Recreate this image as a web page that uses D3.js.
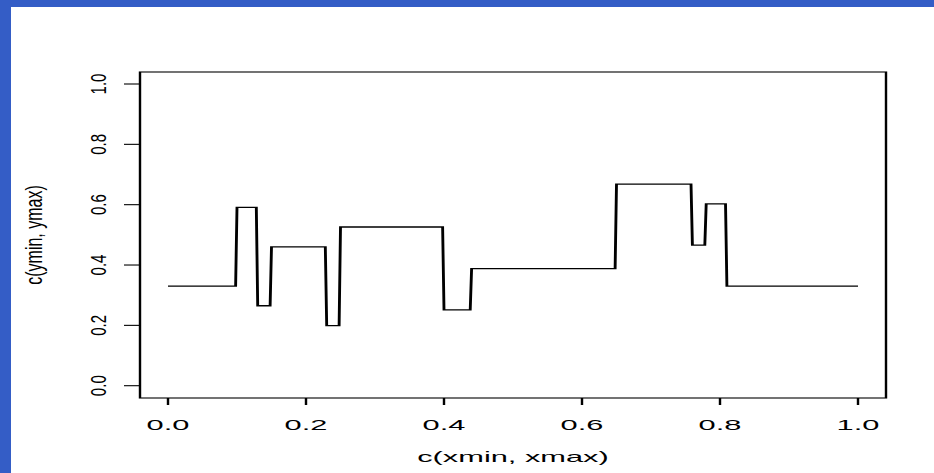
<!DOCTYPE html>
<html>
<head>
<meta charset="utf-8">
<script src="https://d3js.org/d3.v7.min.js"></script>
<style>
  body { margin: 0; background: #ffffff; }
  svg { display: block; font-family: "Liberation Sans", Arial, Helvetica, sans-serif; }
</style>
</head>
<body>
<script>
// step segments
var xmin = [0.000, 0.100, 0.130, 0.150, 0.230, 0.250, 0.400, 0.440, 0.650, 0.760, 0.780, 0.810];
var xmax = [0.098, 0.128, 0.148, 0.228, 0.248, 0.398, 0.438, 0.648, 0.758, 0.778, 0.808, 1.000];
var yval = [0.330, 0.591, 0.265, 0.460, 0.199, 0.526, 0.251, 0.388, 0.668, 0.466, 0.603, 0.330];

var xTicks = [0, 0.2, 0.4, 0.6, 0.8, 1.0];
var yTicks = [0, 0.2, 0.4, 0.6, 0.8, 1.0];
var xTitle = "c(xmin, xmax)";
var yTitle = "c(ymin, ymax)";

var W = 934, H = 473;
var S = 2.2;  // the plot looks stretched horizontally
var box = { left: 140, right: 886, top: 72, bottom: 398 };

var svg = d3.select("body").append("svg")
    .attr("width", W)
    .attr("height", H);

svg.append("rect").attr("width", W).attr("height", H).attr("fill", "#ffffff");
svg.append("rect").attr("width", 11).attr("height", H).attr("fill", "#345dc6");
svg.append("rect").attr("width", W).attr("height", 7).attr("fill", "#345dc6");

// everything in g is drawn in unstretched units, then scaled in x
var g = svg.append("g").attr("transform", "scale(" + S + ",1)");

var x = d3.scaleLinear().domain([0, 1]).range([168 / S, 858 / S]);
var y = d3.scaleLinear().domain([0, 1]).range([385.7, 84]);

// data line
var pts = [];
for (var i = 0; i < yval.length; i++) {
    pts.push([xmin[i], yval[i]]);
    pts.push([xmax[i], yval[i]]);
}
var line = d3.line()
    .x(function (d) { return x(d[0]); })
    .y(function (d) { return y(d[1]); });

g.append("path")
    .datum(pts)
    .attr("d", line)
    .attr("fill", "none")
    .attr("stroke", "#000")
    .attr("stroke-width", 1.3)
    .attr("stroke-linejoin", "miter");

// box
g.append("rect")
    .attr("x", box.left / S)
    .attr("y", box.top)
    .attr("width", (box.right - box.left) / S)
    .attr("height", box.bottom - box.top)
    .attr("fill", "none")
    .attr("stroke", "#000")
    .attr("stroke-width", 1.1);

// x axis
var xAxis = d3.axisBottom(x)
    .tickValues(xTicks)
    .tickSize(7)
    .tickSizeOuter(0)
    .offset(0)
    .tickFormat(d3.format(".1f"));

var gx = g.append("g")
    .attr("transform", "translate(0," + box.bottom + ")")
    .call(xAxis);
gx.select(".domain").remove();
gx.selectAll(".tick line").attr("stroke-width", 1.1);
gx.selectAll(".tick text")
    .attr("y", 32)
    .attr("dy", null)
    .attr("fill", "#000")
    .style("font-size", "14px")
    .style("font-family", "'Liberation Sans', Arial, sans-serif");

// y axis
var yAxis = d3.axisLeft(y)
    .tickValues(yTicks)
    .tickSize(16 / S)
    .tickSizeOuter(0)
    .offset(0)
    .tickFormat(d3.format(".1f"));

var gy = g.append("g")
    .attr("transform", "translate(" + (box.left / S) + ",0)")
    .call(yAxis);
gy.select(".domain").remove();
gy.selectAll(".tick line").attr("stroke-width", 1.1);
gy.selectAll(".tick text")
    .attr("x", null)
    .attr("dy", null)
    .attr("text-anchor", "middle")
    .attr("transform", "translate(" + ((106 - box.left) / S) + ",0) scale(" + (1.45 / S) + ",1) rotate(-90)")
    .attr("fill", "#000")
    .style("font-size", "15px")
    .style("font-family", "'Liberation Sans', Arial, sans-serif");

// titles
g.append("text")
    .attr("x", ((box.left + box.right) / 2) / S)
    .attr("y", 462)
    .attr("text-anchor", "middle")
    .style("font-size", "14px")
    .text(xTitle);

svg.append("text")
    .attr("transform", "translate(42," + ((box.top + box.bottom) / 2) + ") scale(1.45,1) rotate(-90)")
    .attr("text-anchor", "middle")
    .style("font-size", "16px")
    .text(yTitle);
</script>
</body>
</html>
